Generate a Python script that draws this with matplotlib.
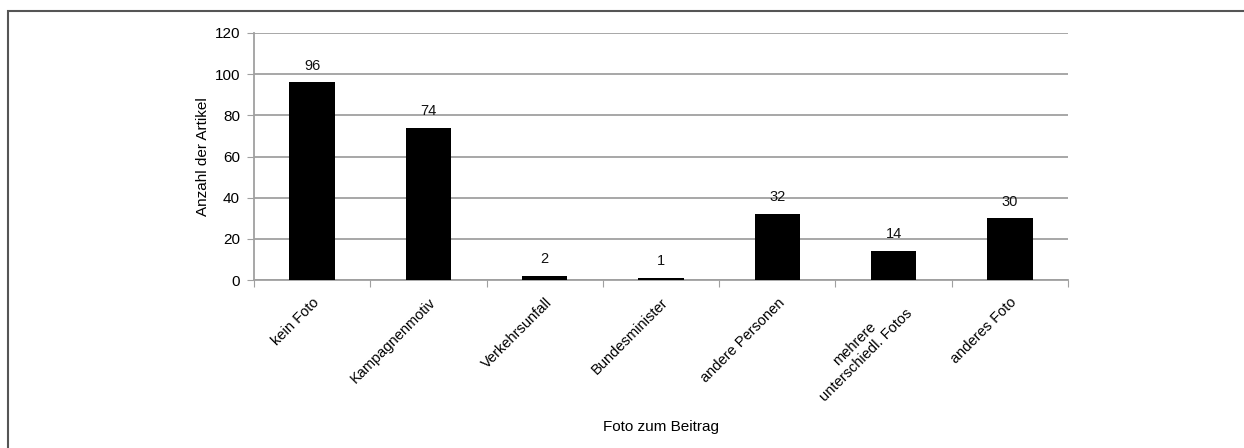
import matplotlib
matplotlib.use("Agg")
import matplotlib.pyplot as plt
from matplotlib.patches import Rectangle

categories = ["kein Foto", "Kampagnenmotiv", "Verkehrsunfall", "Bundesminister",
              "andere Personen", "mehrere\nunterschiedl. Fotos", "anderes Foto"]
values = [96, 74, 2, 1, 32, 14, 30]
yticks = [0, 20, 40, 60, 80, 100, 120]

plt.rcParams['font.family'] = ['Liberation Sans', 'DejaVu Sans']
W, H = 1244, 448
fig = plt.figure(figsize=(W / 100, H / 100), dpi=100)
ax = fig.add_axes([254 / W, 1 - 280 / H, (1068 - 254) / W, (280 - 33) / H])

x = list(range(len(categories)))
ax.bar(x, values, width=0.39, color='black', zorder=3)
for xi, v in zip(x, values):
    ax.annotate(str(v), (xi, v), xytext=(0, 7), textcoords='offset points',
                ha='center', va='bottom', fontsize=10.5, color='#111111')

ax.set_xlim(-0.5, len(categories) - 0.5)
ax.set_ylim(0, 120)
ax.set_yticks(yticks)
ax.yaxis.grid(True, color='#a0a0a0', linewidth=1.3, zorder=0)
ax.set_axisbelow(True)
for s in ['top', 'right']:
    ax.spines[s].set_visible(False)
for s in ['left', 'bottom']:
    ax.spines[s].set_color('#a0a0a0')
    ax.spines[s].set_linewidth(1.3)

ax.set_xticks([i - 0.5 for i in range(len(categories) + 1)], minor=False)
ax.set_xticklabels([])
ax.tick_params(axis='x', length=5, color='#a0a0a0', direction='out')
ax.tick_params(axis='y', length=5, color='#a0a0a0', labelsize=11, pad=5)
ax.set_xticks(x, minor=True)
ax.set_xticklabels(categories, minor=True, rotation=45, ha='right',
                   rotation_mode='anchor', fontsize=10.5, multialignment='center')
ax.tick_params(axis='x', which='minor', length=0, pad=11)

ax.set_ylabel('Anzahl der Artikel', fontsize=11, labelpad=3)
fig.text(661 / W, 1 - 427 / H, 'Foto zum Beitrag', ha='center', va='center', fontsize=11)

fig.patches.append(Rectangle((8 / W, -0.1), 1.2, 1 - 11 / H + 0.1, transform=fig.transFigure,
                             fill=False, edgecolor='#555555', linewidth=1.5))

fig.savefig('out.png', dpi=100)
